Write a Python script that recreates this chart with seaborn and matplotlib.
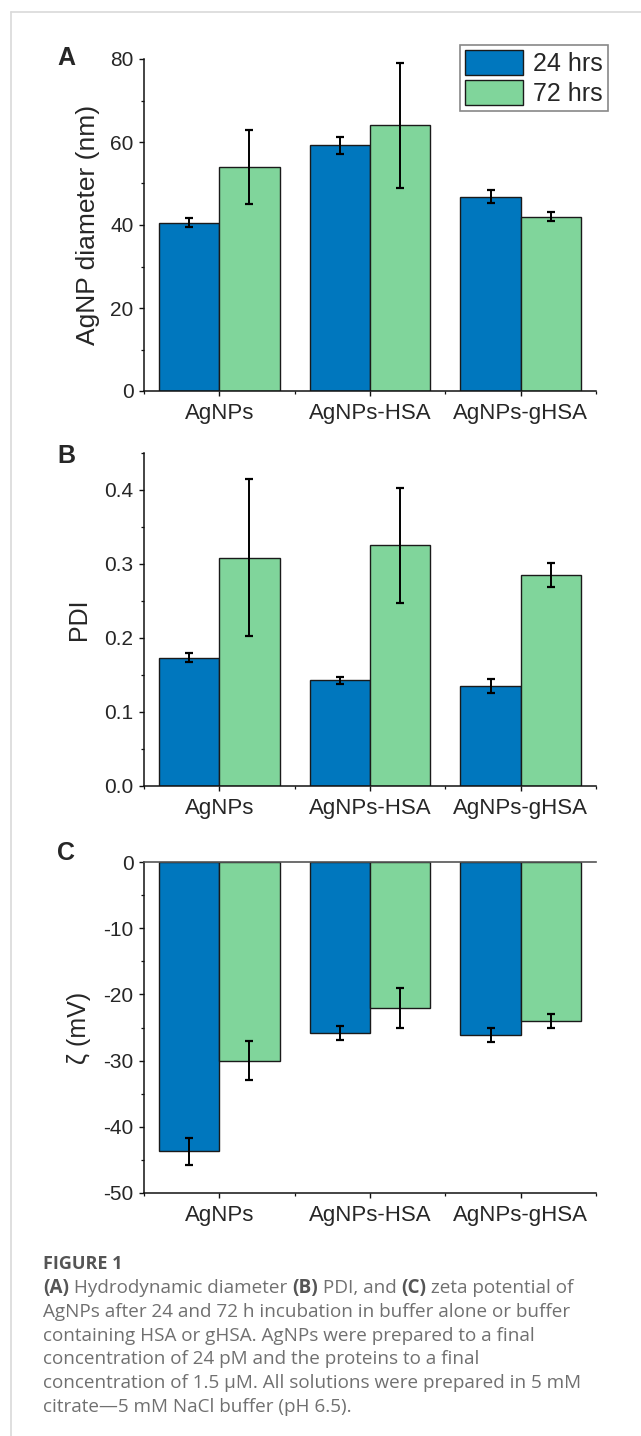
import matplotlib
matplotlib.use("Agg")
import matplotlib.pyplot as plt
import seaborn as sns
import numpy as np
import pandas as pd
from matplotlib.ticker import AutoMinorLocator, FixedLocator, MultipleLocator, FormatStrFormatter
from matplotlib.lines import Line2D

# ---------------- data ----------------
samples = ["AgNPs", "AgNPs-HSA", "AgNPs-gHSA"]
times = ["24 hrs", "72 hrs"]

diam_24 = [40.5, 59.2, 46.8]
diam_24_err = [1.1, 2.1, 1.6]
diam_72 = [54.0, 64.0, 42.0]
diam_72_err = [9.0, 15.0, 1.05]

pdi_24 = [0.1736, 0.143, 0.1348]
pdi_24_err = [0.0063, 0.0045, 0.0092]
pdi_72 = [0.3085, 0.325, 0.2855]
pdi_72_err = [0.106, 0.078, 0.016]

zeta_24 = [-43.7, -25.8, -26.2]
zeta_24_err = [2.05, 1.1, 1.05]
zeta_72 = [-30.0, -22.0, -24.0]
zeta_72_err = [3.0, 3.0, 1.05]

ylabels = ["AgNP diameter (nm)", "PDI", "ζ (mV)"]
panel_letters = ["A", "B", "C"]

caption_title = "FIGURE 1"
caption_lines = [
    [("(A)", True), (" Hydrodynamic diameter ", False), ("(B)", True), (" PDI, and ", False),
     ("(C)", True), (" zeta potential of", False)],
    [("AgNPs after 24 and 72 h incubation in buffer alone or buffer", False)],
    [("containing HSA or gHSA. AgNPs were prepared to a final", False)],
    [("concentration of 24 pM and the proteins to a final", False)],
    [("concentration of 1.5 µM. All solutions were prepared in 5 mM", False)],
    [("citrate—5 mM NaCl buffer (pH 6.5).", False)],
]

BLUE = "#0077BE"
GREEN = "#80D59B"

sns.set_theme(style="ticks")
plt.rcParams["font.family"] = ["Liberation Sans", "DejaVu Sans"]
plt.rcParams["axes.unicode_minus"] = False

W, H = 641, 1436
fig = plt.figure(figsize=(W / 100, H / 100), dpi=100)


def ax_rect(left, right, top, bottom):
    return [left / W, 1 - bottom / H, (right - left) / W, (bottom - top) / H]


rects = [ax_rect(144, 596, 59, 391), ax_rect(144, 596, 453, 786), ax_rect(144, 596, 862, 1193)]
ylims = [(0, 80), (0, 0.45), (-50, 0)]
major = [20, 0.1, 10]
label_x = [-0.098, -0.118, -0.118]
letter_y = [58, 456, 853]

datasets = [
    (diam_24, diam_72, diam_24_err, diam_72_err),
    (pdi_24, pdi_72, pdi_24_err, pdi_72_err),
    (zeta_24, zeta_72, zeta_24_err, zeta_72_err),
]

for i, (v24, v72, e24, e72) in enumerate(datasets):
    ax = fig.add_axes(rects[i])
    df = pd.DataFrame({
        "sample": samples * 2,
        "time": [times[0]] * 3 + [times[1]] * 3,
        "value": list(v24) + list(v72),
    })
    sns.barplot(data=df, x="sample", y="value", hue="time", order=samples, hue_order=times,
                palette=[BLUE, GREEN], edgecolor="#1a1a1a", linewidth=1.0, width=0.8, gap=0,
                saturation=1, errorbar=None, legend=(i == 0), ax=ax)
    for cont, errs in zip(ax.containers, [e24, e72]):
        xs = [b.get_x() + b.get_width() / 2 for b in cont]
        ys = list(cont.datavalues)
        ax.errorbar(xs, ys, yerr=errs, fmt="none", ecolor="black", elinewidth=1.4,
                    capsize=3.2, capthick=1.6, zorder=5)
    ax.set_xlim(-0.5, 2.5)
    ax.set_ylim(*ylims[i])
    ax.yaxis.set_major_locator(MultipleLocator(major[i]))
    ax.yaxis.set_minor_locator(AutoMinorLocator(2))
    ax.xaxis.set_minor_locator(FixedLocator([-0.5, 0.5, 1.5, 2.5]))
    if i == 1:
        ax.yaxis.set_major_formatter(FormatStrFormatter("%.1f"))
    ax.set_xlabel("")
    ax.set_ylabel(ylabels[i], fontsize=19 if i == 0 else 18)
    ax.yaxis.set_label_coords(label_x[i], 0.5)
    ax.spines["right"].set_visible(False)
    if i == 2:
        ax.spines["top"].set_visible(True)
        ax.spines["top"].set_color("#555555")
        ax.spines["top"].set_linewidth(1.2)
    else:
        ax.spines["top"].set_visible(False)
    for s in ["left", "bottom"]:
        ax.spines[s].set_color("#111111")
        ax.spines[s].set_linewidth(1.1)
    ax.tick_params(axis="both", which="major", length=3.5, width=1.0, color="#111111",
                   pad=4, direction="out")
    ax.tick_params(axis="y", which="major", labelsize=15)
    ax.tick_params(axis="x", which="major", labelsize=16, pad=5)
    ax.tick_params(axis="both", which="minor", length=2.2, width=0.9, color="#111111",
                   direction="out")
    ax.tick_params(axis="x", top=False, which="both")
    fig.text(57 / W, 1 - letter_y[i] / H, panel_letters[i], fontsize=18, fontweight="bold",
             ha="left", va="center")
    if i == 0:
        leg = ax.get_legend()
        handles = leg.legend_handles
        leg.remove()
        legend = ax.legend(handles=handles, labels=times, loc="upper right",
                           bbox_to_anchor=(608 / W, 1 - 45 / H), bbox_transform=fig.transFigure,
                           borderaxespad=0, fontsize=18, handlelength=2.35, handleheight=1.15,
                           handletextpad=0.4, labelspacing=0.18, borderpad=0.2,
                           fancybox=False, frameon=True, framealpha=1)
        legend.get_frame().set_edgecolor("#888888")
        legend.get_frame().set_linewidth(1.2)
        for h in legend.legend_handles:
            h.set_edgecolor("#1a1a1a")
            h.set_linewidth(1.0)

# page frame lines
fig.add_artist(Line2D([11 / W, 1], [1 - 12 / H, 1 - 12 / H], color="#d9d9d9", lw=1.2,
                      transform=fig.transFigure))
fig.add_artist(Line2D([11 / W, 11 / W], [1 - 12 / H, 0], color="#d9d9d9", lw=1.2,
                      transform=fig.transFigure))

# caption
cap_font = ["Open Sans", "DejaVu Sans"]
fig.text(43 / W, 1 - 1264 / H, caption_title, fontsize=13, fontweight="bold", color="#555555",
         family=cap_font, ha="left", va="center")

fig.canvas.draw()
renderer = fig.canvas.get_renderer()
line_y0 = 1288
line_step = 23.8
for li, segs in enumerate(caption_lines):
    x = 43
    y = 1 - (line_y0 + li * line_step) / H
    for text, bold in segs:
        t = fig.text(x / W, y, text, fontsize=13.6, fontweight="bold" if bold else "normal",
                     color="#555555" if bold else "#707070", family=cap_font,
                     ha="left", va="center")
        bb = t.get_window_extent(renderer=renderer)
        x = bb.x1

fig.savefig("out.png", dpi=100)
